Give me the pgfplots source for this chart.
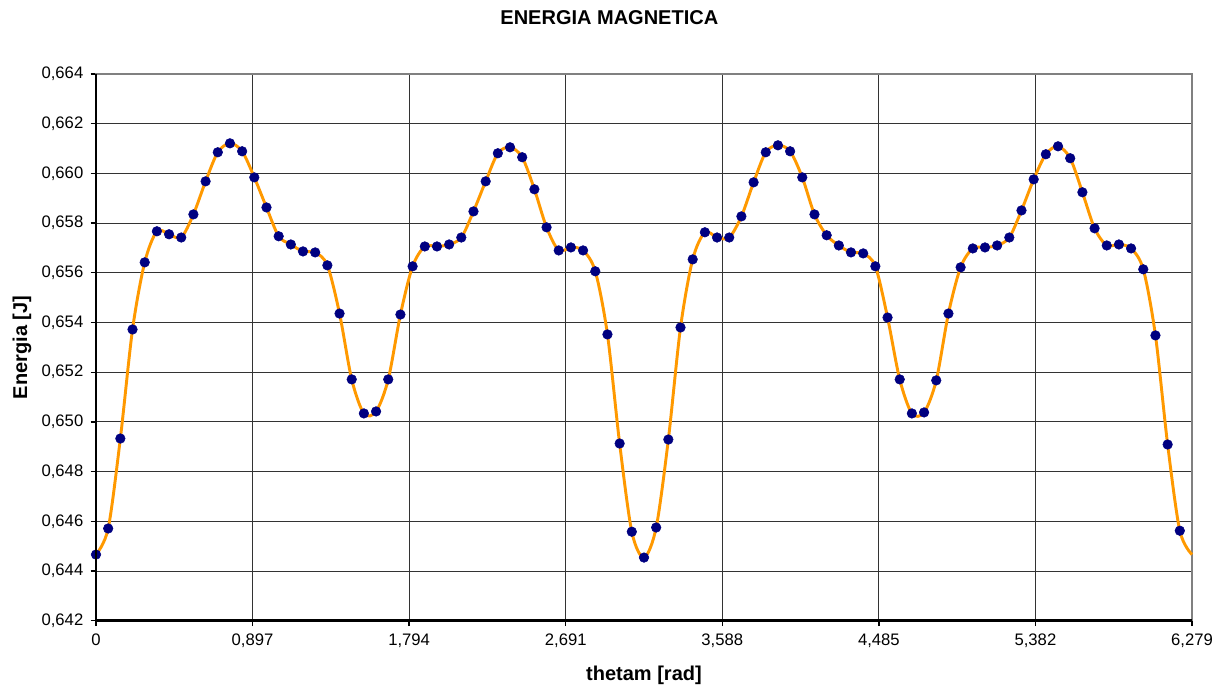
\documentclass[border=0pt]{standalone}
\usepackage{fontspec}
\setmainfont{Liberation Sans}
\usepackage{pgfplots}
\pgfplotsset{compat=1.18}
\usepackage{pgfplotstable}

\definecolor{curve}{RGB}{255,153,0}
\definecolor{dots}{RGB}{0,0,128}
\definecolor{frame}{RGB}{128,128,128}

% energia magnetica, passo 4 gradi (6,279/90)
\pgfplotstableread{
i E
0 0.64466
1 0.64571
2 0.64933
3 0.65372
4 0.65642
5 0.65767
6 0.65755
7 0.65742
8 0.65835
9 0.65968
10 0.66085
11 0.66121
12 0.66089
13 0.65984
14 0.65863
15 0.65747
16 0.65714
17 0.65686
18 0.65682
19 0.65630
20 0.65436
21 0.65171
22 0.65034
23 0.65042
24 0.65171
25 0.65432
26 0.65626
27 0.65706
28 0.65706
29 0.65714
30 0.65742
31 0.65847
32 0.65968
33 0.66081
34 0.66105
35 0.66065
36 0.65936
37 0.65783
38 0.65690
39 0.65702
40 0.65690
41 0.65606
42 0.65352
43 0.64913
44 0.64558
45 0.64454
46 0.64575
47 0.64929
48 0.65380
49 0.65654
50 0.65763
51 0.65742
52 0.65742
53 0.65827
54 0.65964
55 0.66085
56 0.66113
57 0.66089
58 0.65984
59 0.65835
60 0.65751
61 0.65710
62 0.65682
63 0.65678
64 0.65626
65 0.65420
66 0.65171
67 0.65034
68 0.65038
69 0.65167
70 0.65436
71 0.65622
72 0.65698
73 0.65702
74 0.65710
75 0.65742
76 0.65851
77 0.65976
78 0.66077
79 0.66109
80 0.66061
81 0.65924
82 0.65779
83 0.65710
84 0.65714
85 0.65698
86 0.65614
87 0.65348
88 0.64909
89 0.64562
90 0.64466
}\energia

\begin{document}
\begin{tikzpicture}
\useasboundingbox (-72pt,-49pt) rectangle (844.5pt,465.5pt);
\begin{axis}[
  scale only axis, width=822pt, height=410pt,
  xmin=0, xmax=6.279, ymin=0.642, ymax=0.664,
  xtick={0,0.897,1.794,2.691,3.588,4.485,5.382,6.279},
  xticklabels={0,{0,897},{1,794},{2,691},{3,588},{4,485},{5,382},{6,279}},
  ytick={0.642,0.644,...,0.6641},
  yticklabel style={xshift=-2pt,/pgf/number format/.cd,fixed,fixed zerofill,precision=3,use comma,assume math mode=true},
  ticklabel style={font=\fontsize{12.5}{14}\selectfont},
  xticklabel style={yshift=-2pt},
  grid=major, grid style={black!80, line width=0.6pt},
  axis line style={frame, line width=0.8pt},
  tick align=outside, xtick pos=left, ytick pos=left,
  major tick length=4pt, tick style={black, line width=1pt},
  clip=false,
  after end axis/.code={
    \draw[black, line width=2pt] (rel axis cs:0,1) -- (rel axis cs:0,0) -- (rel axis cs:1,0);
    \node[font=\bfseries\fontsize{15}{17}\selectfont] at ([xshift=-26pt,yshift=42pt]rel axis cs:0.5,1) {ENERGIA MAGNETICA};
    \node[font=\bfseries\fontsize{15}{17}\selectfont] at ([yshift=-41pt]rel axis cs:0.5,0) {thetam [rad]};
    \node[font=\bfseries\fontsize{15}{17}\selectfont, rotate=90] at ([xshift=-55.5pt]rel axis cs:0,0.5) {Energia [J]};
  },
]
\addplot[curve, line width=2.2pt, smooth, tension=0.5, no marks]
  table[x expr=\thisrow{i}*6.279/90, y=E] {\energia};
\addplot[only marks, mark=*, mark size=3.6pt, dots, skip coords between index={90}{91}]
  table[x expr=\thisrow{i}*6.279/90, y=E] {\energia};
\end{axis}
\end{tikzpicture}
\end{document}
